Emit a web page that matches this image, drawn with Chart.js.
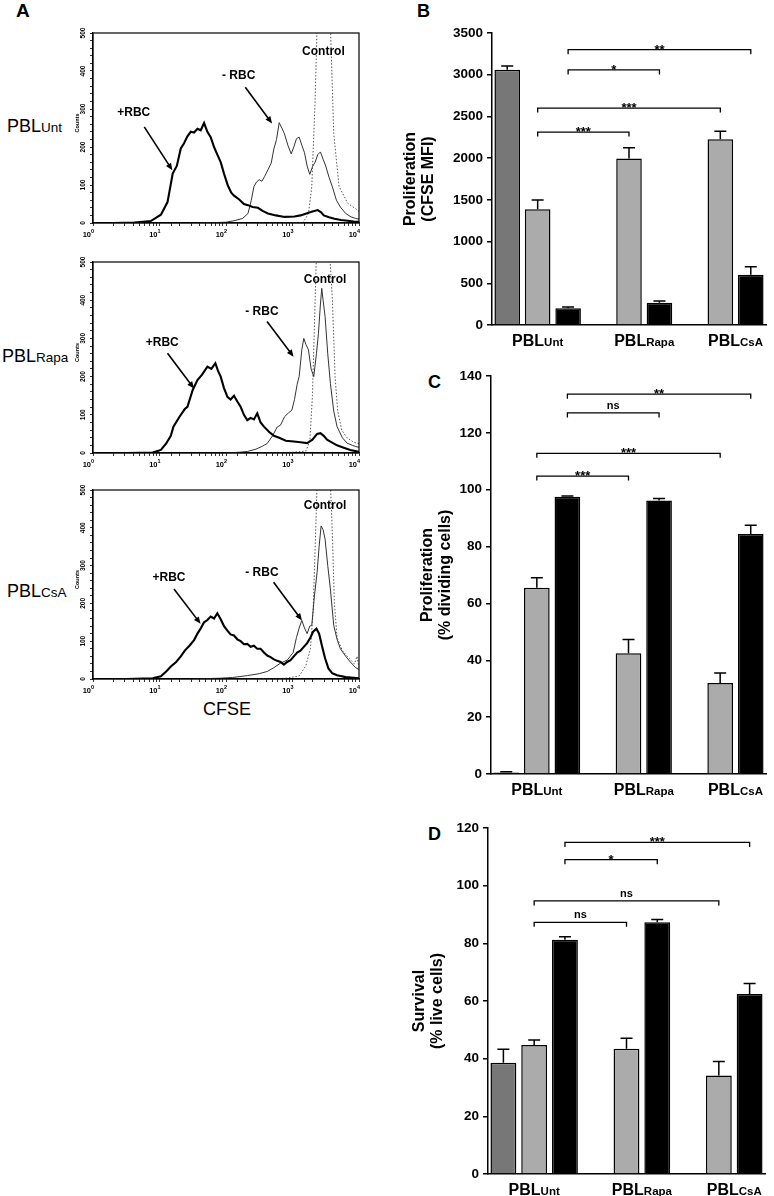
<!DOCTYPE html>
<html>
<head>
<meta charset="utf-8">
<script src="https://cdn.jsdelivr.net/npm/chart.js@4.4.1/dist/chart.umd.min.js"></script>
<style>
  body { margin: 0; background: #fff; width: 774px; height: 1196px; position: relative; overflow: hidden;
         font-family: "Liberation Sans", Arial, Helvetica, sans-serif; color: #000; }
  canvas { position: absolute; }
  .txt { position: absolute; line-height: 1; white-space: nowrap; }
  .panel { font-weight: bold; font-size: 18px; }
  .row { font-size: 18px; }
  .row span { font-size: 13.5px; }
</style>
</head>
<body>
<div class="txt panel" style="left:16px;top:1px;font-size:19px">A</div>
<div class="txt panel" style="left:417px;top:1.5px">B</div>
<div class="txt panel" style="left:428px;top:373px">C</div>
<div class="txt panel" style="left:428px;top:825px">D</div>
<div class="txt row" style="left:7px;top:116.5px">PBL<span>Unt</span></div>
<div class="txt row" style="left:2px;top:346.5px">PBL<span>Rapa</span></div>
<div class="txt row" style="left:7px;top:581.5px">PBL<span>CsA</span></div>
<div class="txt row" style="left:177px;top:700px;width:100px;text-align:center">CFSE</div>

<canvas id="h1" width="380" height="220" style="left:0;top:25px"></canvas>
<canvas id="h2" width="380" height="221" style="left:0;top:254px"></canvas>
<canvas id="h3" width="380" height="219" style="left:0;top:482px"></canvas>
<canvas id="cB" width="374" height="360" style="left:400px;top:0"></canvas>
<canvas id="cC" width="374" height="440" style="left:400px;top:360px"></canvas>
<canvas id="cD" width="374" height="396" style="left:400px;top:800px"></canvas>

<script>
const FONT = '"Liberation Sans", Arial, Helvetica, sans-serif';

// ---- panel A: CFSE histograms, [CFSE intensity, counts] ----
const decadeTicks = [1, 10, 100, 1000, 10000];
const countTicks = [0, 100, 200, 300, 400, 500];

const untPlus = [[2,0],[4.2,1],[7.4,5],[10.5,22],[13.2,55],[15.8,130],[18.2,150],[20.9,196],[23.4,210],[26.3,228],
  [29.5,240],[33.1,238],[37.2,248],[41.7,244],[46.8,263],[52.5,240],[58.9,226],[66.1,200],[74.1,180],[83.2,160],
  [93.3,130],[107,98],[120,80],[132,72],[158,62],[186,50],[214,47],[251,42],[302,40],[355,32],[427,25],[562,20],
  [759,16],[1072,17],[1318,20],[1698,26],[1995,30],[2399,34],[2692,28],[2951,20],[3548,15],[4266,11],[5370,8],
  [6761,6],[8318,4],[10000,3]];
const untMinus = [[41.7,0],[100,2],[132,6],[178,12],[214,25],[240,60],[263,96],[288,108],[316,114],[347,110],
  [380,122],[427,140],[479,158],[525,195],[575,220],[631,264],[692,250],[759,234],[851,205],[955,182],[1047,200],
  [1148,222],[1259,226],[1380,205],[1514,185],[1660,150],[1820,128],[1995,148],[2188,160],[2399,180],[2630,187],
  [2884,168],[3162,150],[3548,120],[3981,95],[4571,60],[5248,42],[6310,25],[7586,16],[8913,12],[10000,10]];
const untCtrl = [[316,0],[1413,1],[1549,10],[1738,25],[1950,96],[2188,323],[2344,520],[3715,520],[4169,236],
  [5012,96],[6761,52],[9333,35],[10000,30]];

const rapaPlus = [[3.2,0],[7.9,1],[10.5,8],[12.6,25],[14.8,45],[16.2,69],[20,95],[24,115],[26.3,121],[31.6,165],
  [37.2,191],[43.7,205],[52.5,226],[60.3,220],[69.2,235],[75.9,215],[83.2,200],[93.3,170],[105,147],[117,140],
  [132,150],[148,135],[166,121],[186,100],[209,86],[234,92],[263,88],[295,104],[331,80],[372,69],[447,55],
  [525,45],[631,40],[794,32],[1047,30],[1318,28],[1660,26],[1995,35],[2344,50],[2630,52],[2951,45],[3311,35],
  [3715,30],[4677,20],[5888,14],[7413,8],[10000,3]];
const rapaMinus = [[100,0],[158,2],[209,4],[282,10],[355,18],[417,25],[501,45],[589,68],[661,73],[759,95],
  [871,105],[977,112],[1072,140],[1175,180],[1259,200],[1380,270],[1479,300],[1585,285],[1738,270],[1905,220],
  [2089,200],[2291,260],[2455,313],[2630,390],[2754,431],[2884,400],[3090,357],[3388,260],[3715,182],[4169,110],
  [4677,69],[5623,40],[6607,26],[7943,20],[9333,16],[10000,15]];
const rapaCtrl = [[316,0],[1000,2],[1585,5],[1820,30],[1995,150],[2188,400],[2291,520],[3631,520],[3981,400],
  [4365,200],[4786,110],[5495,60],[6607,40],[8318,28],[10000,25]];

const csaPlus = [[3.2,0],[7.9,2],[10.5,7],[12.6,20],[14.8,33],[17.8,45],[20.9,60],[24,75],[28.2,88],[33.1,103],
  [37.2,120],[41.7,134],[46.8,150],[52.5,156],[58.9,165],[66.1,160],[74.1,174],[83.2,158],[93.3,140],[105,128],
  [117,118],[132,115],[148,105],[166,100],[186,92],[209,93],[234,85],[263,88],[295,80],[331,80],[372,70],
  [417,62],[468,58],[525,52],[589,48],[661,45],[741,38],[832,45],[933,50],[1047,60],[1175,70],[1318,75],
  [1479,85],[1660,95],[1862,110],[2042,125],[2291,133],[2512,120],[2754,90],[3090,55],[3467,28],[3981,15],
  [4677,10],[6310,5],[10000,2]];
const csaMinus = [[31.6,0],[79.4,2],[126,4],[209,9],[316,14],[417,20],[525,30],[661,42],[832,50],[1023,70],
  [1148,110],[1259,135],[1380,155],[1514,135],[1660,120],[1820,140],[1950,142],[2138,220],[2344,282],[2512,350],
  [2692,405],[2884,395],[3090,370],[3388,300],[3715,238],[4169,142],[4677,105],[5248,80],[6310,60],[7413,45],
  [8913,30],[10000,25]];
const csaCtrl = [[316,0],[794,2],[1259,8],[1585,35],[1862,80],[2042,180],[2239,400],[2344,520],[3715,520],
  [3981,380],[4266,200],[4677,110],[5623,75],[7079,55],[8511,40],[9333,60],[10000,30]];

// annotation text + arrow: [label, x, y, arrowFromX, arrowFromY, arrowToX, arrowToY] in data units
const untNotes = [['+RBC',4.1,289,5.9,253,15.6,139],['- RBC',155,387,195,357,493,262],['Control',2920,451]];
const rapaNotes = [['+RBC',11,289,13.2,261,33,169],['- RBC',347,370,414,344,1038,252],['Control',3090,455]];
const csaNotes = [['+RBC',13.9,269,16.5,238,41.5,146],['- RBC',347,282,520,256,1387,155],['Control',3090,459]];

// ---- panels B-D: bars ----
const groups = ['Unt', 'Rapa', 'CsA'];

const mfiDark = [3060, null, null];   const mfiDarkErr = [45, null, null];
const mfiGray = [1388, 1995, 2227];   const mfiGrayErr = [110, 130, 95];
const mfiBlack = [200, 268, 602];     const mfiBlackErr = [15, 20, 96];

const divDark = [0.5, null, null];    const divDarkErr = [0.3, null, null];
const divGray = [65.5, 42.5, 32];     const divGrayErr = [3.5, 4.8, 3.5];
const divBlack = [97.5, 96.2, 84.4];  const divBlackErr = [0.3, 0.7, 3.1];

const liveDark = [38.6, null, null];  const liveDarkErr = [4.7, null, null];
const liveGray = [44.7, 43.4, 34.2];  const liveGrayErr = [1.8, 3.7, 4.8];
const liveBlack = [81.2, 87.3, 62.4]; const liveBlackErr = [1.1, 1.0, 3.7];

// [dataset, group, dataset, group, y, label]
const mfiBrackets = [[2,0,2,2,3300,'**'],[2,0,2,1,3058,'*'],[1,0,1,2,2600,'***'],[1,0,1,1,2312,'***']];
const divBrackets = [[2,0,2,2,133.6,'**'],[2,0,2,1,127,'ns'],[1,0,1,2,112.8,'***'],[1,0,1,1,104.8,'***']];
const liveBrackets = [[2,0,2,2,115,'***'],[2,0,2,1,109,'*'],[1,0,1,2,94.7,'ns'],[1,0,1,1,87.3,'ns']];

function arrow(ctx, x1, y1, x2, y2) {
  const ang = Math.atan2(y2 - y1, x2 - x1);
  ctx.beginPath();
  ctx.moveTo(x1, y1);
  ctx.lineTo(x2 - 4 * Math.cos(ang), y2 - 4 * Math.sin(ang));
  ctx.lineWidth = 1.6;
  ctx.stroke();
  ctx.beginPath();
  ctx.moveTo(x2, y2);
  ctx.lineTo(x2 - 7 * Math.cos(ang) + 3 * Math.sin(ang), y2 - 7 * Math.sin(ang) - 3 * Math.cos(ang));
  ctx.lineTo(x2 - 7 * Math.cos(ang) - 3 * Math.sin(ang), y2 - 7 * Math.sin(ang) + 3 * Math.cos(ang));
  ctx.closePath();
  ctx.fill();
}

const histDecor = {
  id: 'histDecor',
  afterDraw(chart, args, opts) {
    const {ctx, chartArea: a, scales: {x, y}} = chart;
    ctx.save();
    ctx.strokeStyle = '#000';
    ctx.fillStyle = '#000';
    ctx.lineWidth = 1.2;
    ctx.strokeRect(a.left, a.top, a.right - a.left, a.bottom - a.top);

    decadeTicks.forEach((v, i) => {
      const px = x.getPixelForValue(v);
      ctx.textBaseline = 'alphabetic';
      ctx.font = 'bold 7.5px ' + FONT;
      ctx.textAlign = 'right';
      ctx.fillText('10', px - 2, a.bottom + 14);
      ctx.font = 'bold 5.5px ' + FONT;
      ctx.textAlign = 'left';
      ctx.fillText(String(i), px - 2, a.bottom + 10);
    });

    countTicks.forEach(v => {
      ctx.save();
      ctx.translate(a.left - 10, y.getPixelForValue(v));
      ctx.rotate(-Math.PI / 2);
      ctx.font = 'bold 6.5px ' + FONT;
      ctx.textAlign = 'center';
      ctx.textBaseline = 'middle';
      ctx.fillText(String(v), 0, 0);
      ctx.restore();
    });

    ctx.save();
    ctx.translate(a.left - 16, (a.top + a.bottom) / 2 - 5);
    ctx.rotate(-Math.PI / 2);
    ctx.font = 'bold 5.5px ' + FONT;
    ctx.textAlign = 'center';
    ctx.textBaseline = 'middle';
    ctx.fillText('Counts', 0, 0);
    ctx.restore();

    opts.notes.forEach(n => {
      ctx.font = 'bold 12px ' + FONT;
      ctx.textAlign = 'center';
      ctx.textBaseline = 'middle';
      ctx.fillText(n[0], x.getPixelForValue(n[1]), y.getPixelForValue(n[2]));
      if (n.length > 3) {
        arrow(ctx, x.getPixelForValue(n[3]), y.getPixelForValue(n[4]),
                   x.getPixelForValue(n[5]), y.getPixelForValue(n[6]));
      }
    });
    ctx.restore();
  }
};

function pts(arr) { return arr.map(p => ({x: p[0], y: p[1]})); }

function histChart(id, plus, minus, ctrl, notes) {
  return new Chart(document.getElementById(id), {
    type: 'line',
    data: {
      datasets: [
        {data: pts(plus), borderColor: '#000', borderWidth: 2.1},
        {data: pts(minus), borderColor: '#333', borderWidth: 1},
        {data: pts(ctrl), borderColor: '#555', borderWidth: 1, borderDash: [1.5, 1.8]}
      ]
    },
    options: {
      responsive: false,
      animation: false,
      elements: {point: {radius: 0}, line: {tension: 0}},
      layout: {padding: {top: 8, right: 21, left: 0, bottom: 0}},
      plugins: {legend: {display: false}, tooltip: {enabled: false}, histDecor: {notes: notes}},
      scales: {
        x: {
          type: 'logarithmic', min: 1, max: 10000,
          afterFit: s => { s.height = 22; },
          ticks: {display: false, autoSkip: false},
          grid: {drawOnChartArea: false, tickLength: 3, color: '#000', lineWidth: 0.8},
          border: {color: '#000', width: 1.2}
        },
        y: {
          min: 0, max: 500,
          afterFit: s => { s.width = 93; },
          ticks: {display: false, stepSize: 20},
          grid: {drawOnChartArea: false, tickLength: 3, color: '#000', lineWidth: 0.8},
          border: {color: '#000', width: 1.2}
        }
      }
    },
    plugins: [histDecor]
  });
}

histChart('h1', untPlus, untMinus, untCtrl, untNotes);
histChart('h2', rapaPlus, rapaMinus, rapaCtrl, rapaNotes);
histChart('h3', csaPlus, csaMinus, csaCtrl, csaNotes);

const barDecor = {
  id: 'barDecor',
  afterDatasetsDraw(chart, args, opts) {
    const {ctx, chartArea: a, scales: {y}} = chart;
    ctx.save();
    ctx.strokeStyle = '#000';
    ctx.fillStyle = '#000';

    // error bars (upper only)
    chart.data.datasets.forEach((ds, d) => {
      const meta = chart.getDatasetMeta(d);
      ds.data.forEach((v, i) => {
        if (v == null) return;
        const bar = meta.data[i];
        const yTop = y.getPixelForValue(v + ds.errors[i]);
        ctx.lineWidth = 1.5;
        ctx.beginPath();
        ctx.moveTo(bar.x, bar.y);
        ctx.lineTo(bar.x, yTop);
        ctx.moveTo(bar.x - 6, yTop);
        ctx.lineTo(bar.x + 6, yTop);
        ctx.stroke();
      });
    });

    // significance brackets
    opts.brackets.forEach(b => {
      const x1 = chart.getDatasetMeta(b[0]).data[b[1]].x;
      const x2 = chart.getDatasetMeta(b[2]).data[b[3]].x;
      const yy = y.getPixelForValue(b[4]);
      ctx.lineWidth = 1.3;
      ctx.beginPath();
      ctx.moveTo(x1, yy + 4.5);
      ctx.lineTo(x1, yy);
      ctx.lineTo(x2, yy);
      ctx.lineTo(x2, yy + 4.5);
      ctx.stroke();
      const stars = b[5].indexOf('*') >= 0;
      ctx.font = (stars ? 'bold 13px ' : 'bold 11px ') + FONT;
      ctx.textAlign = 'center';
      ctx.textBaseline = 'alphabetic';
      ctx.fillText(b[5], (x1 + x2) / 2, stars ? yy + 4 : yy - 4);
    });

    // group labels PBL + subscript, centred on the drawn bars
    chart.data.labels.forEach((lab, i) => {
      const xs = [];
      chart.data.datasets.forEach((ds, d) => {
        if (ds.data[i] != null) xs.push(chart.getDatasetMeta(d).data[i].x);
      });
      const cx = xs.reduce((s, v) => s + v, 0) / xs.length;
      const big = 'bold 16px ' + FONT, small = 'bold 11.5px ' + FONT;
      ctx.font = big;
      const w1 = ctx.measureText('PBL').width;
      ctx.font = small;
      const w2 = ctx.measureText(lab).width;
      const x0 = cx - (w1 + w2) / 2;
      const base = a.bottom + 20.5;
      ctx.textAlign = 'left';
      ctx.textBaseline = 'alphabetic';
      ctx.font = big;
      ctx.fillText('PBL', x0, base);
      ctx.font = small;
      ctx.fillText(lab, x0 + w1, base);
    });
    ctx.restore();
  }
};

function barChart(id, dark, darkErr, gray, grayErr, black, blackErr, brackets, cfg) {
  return new Chart(document.getElementById(id), {
    type: 'bar',
    data: {
      labels: groups,
      datasets: [
        {data: dark, errors: darkErr, backgroundColor: '#777777'},
        {data: gray, errors: grayErr, backgroundColor: '#ababab'},
        {data: black, errors: blackErr, backgroundColor: '#000000'}
      ]
    },
    options: {
      responsive: false,
      animation: false,
      datasets: {bar: {categoryPercentage: 1, barPercentage: 0.84, borderWidth: 1.5, borderColor: '#000'}},
      layout: {padding: {top: cfg.top, right: cfg.right, left: 0, bottom: 0}},
      plugins: {legend: {display: false}, tooltip: {enabled: false}, barDecor: {brackets: brackets}},
      scales: {
        x: {
          afterFit: s => { s.height = cfg.xh; },
          ticks: {display: false},
          grid: {display: false},
          border: {color: '#000', width: 1.5}
        },
        y: {
          min: 0, max: cfg.max,
          afterFit: s => { s.width = cfg.yw; },
          ticks: {stepSize: cfg.step, color: '#000', padding: 4,
                  callback: v => String(v),
                  font: {family: FONT, size: 13.5, weight: 'bold'}},
          grid: {drawOnChartArea: false, tickLength: 5, color: '#000', lineWidth: 1.5},
          border: {color: '#000', width: 1.5},
          title: {display: true, text: cfg.title, color: '#000',
                  font: {family: FONT, size: 16, weight: 'bold', lineHeight: 1.12},
                  padding: {top: cfg.tp, bottom: 0}}
        }
      }
    },
    plugins: [barDecor]
  });
}

barChart('cB', mfiDark, mfiDarkErr, mfiGray, mfiGrayErr, mfiBlack, mfiBlackErr, mfiBrackets,
  {top: 33, right: 8, xh: 35, yw: 92, max: 3500, step: 500, tp: 2, title: ['Proliferation', '(CFSE MFI)']});
barChart('cC', divDark, divDarkErr, divGray, divGrayErr, divBlack, divBlackErr, divBrackets,
  {top: 16, right: 8, xh: 26, yw: 91, max: 140, step: 20, tp: 18.5, title: ['Proliferation', '(% dividing cells)']});
barChart('cD', liveDark, liveDarkErr, liveGray, liveGrayErr, liveBlack, liveBlackErr, liveBrackets,
  {top: 28, right: 9, xh: 22, yw: 88, max: 120, step: 20, tp: 11, title: ['Survival', '(% live cells)']});
</script>
</body>
</html>
